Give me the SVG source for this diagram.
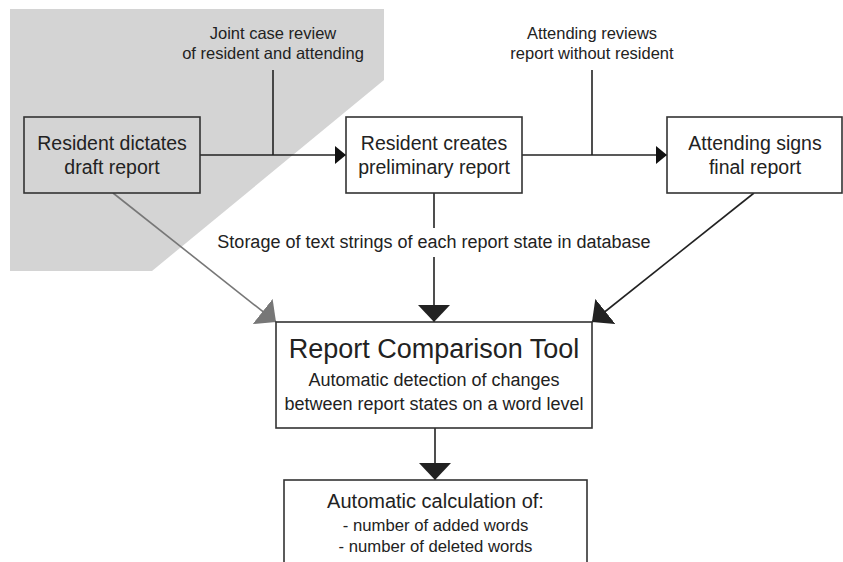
<svg xmlns="http://www.w3.org/2000/svg" width="843" height="562" viewBox="0 0 843 562">
<defs>
<style>
text{font-family:"Liberation Sans",Arial,sans-serif;fill:#222;text-anchor:middle}
.box{stroke:#333;stroke-width:1.6}
.ln{stroke:#222;stroke-width:1.6;fill:none}
.gl{stroke:#777;stroke-width:1.6;fill:none}
.bt{font-size:19.5px}
.lb{font-size:16.5px}
</style>
<marker id="big" markerUnits="userSpaceOnUse" markerWidth="17" markerHeight="32" refX="17" refY="16" orient="auto"><path d="M0,0 L17,16 L0,32 z" fill="#222"/></marker>
<marker id="bigg" markerUnits="userSpaceOnUse" markerWidth="17" markerHeight="32" refX="17" refY="16" orient="auto"><path d="M0,0 L17,16 L0,32 z" fill="#777"/></marker>
<marker id="sm" markerUnits="userSpaceOnUse" markerWidth="11" markerHeight="18" refX="11" refY="9" orient="auto"><path d="M0,0 L11,9 L0,18 z" fill="#111"/></marker>
</defs>
<polygon id="shade" points="10,9 384,9 384,80 152,271 10,271" fill="#d4d4d4"/>
<g id="connectors">
<line class="ln" x1="200" y1="155" x2="346" y2="155" marker-end="url(#sm)"/>
<line class="ln" x1="273" y1="70" x2="273" y2="155"/>
<line class="ln" x1="522" y1="155" x2="667" y2="155" marker-end="url(#sm)"/>
<line class="ln" x1="592" y1="70" x2="592" y2="155"/>
<line class="ln" x1="434" y1="193" x2="434" y2="228"/>
<line class="ln" x1="434" y1="257" x2="434" y2="322" marker-end="url(#big)"/>
<line class="gl" x1="113" y1="193" x2="276" y2="322" marker-end="url(#bigg)"/>
<line class="ln" x1="754" y1="193" x2="592" y2="322" marker-end="url(#big)"/>
<line class="ln" x1="435" y1="428" x2="435" y2="480" marker-end="url(#big)"/>
</g>
<g id="label-joint">
<text class="lb" x="273" y="39">Joint case review</text>
<text class="lb" x="273" y="59">of resident and attending</text>
</g>
<g id="label-attending">
<text class="lb" x="592" y="39">Attending reviews</text>
<text class="lb" x="592" y="59">report without resident</text>
</g>
<g id="label-storage">
<text x="434" y="248" style="font-size:18px">Storage of text strings of each report state in database</text>
</g>
<g id="draft">
<rect class="box" x="24" y="117" width="176" height="76" fill="#d4d4d4"/>
<text class="bt" x="112" y="150">Resident dictates</text>
<text class="bt" x="112" y="174">draft report</text>
</g>
<g id="preliminary">
<rect class="box" x="346" y="117" width="176" height="76" fill="#fff"/>
<text class="bt" x="434" y="150">Resident creates</text>
<text class="bt" x="434" y="174">preliminary report</text>
</g>
<g id="final">
<rect class="box" x="667" y="117" width="175" height="76" fill="#fff"/>
<text class="bt" x="755" y="150">Attending signs</text>
<text class="bt" x="755" y="174">final report</text>
</g>
<g id="tool">
<rect class="box" x="276" y="322" width="316" height="106" fill="#fff"/>
<text x="434" y="358" style="font-size:27px">Report Comparison Tool</text>
<text x="434" y="386" style="font-size:18px">Automatic detection of changes</text>
<text x="434" y="410" style="font-size:18px">between report states on a word level</text>
</g>
<g id="calc">
<rect class="box" x="284" y="480" width="303" height="100" fill="#fff"/>
<text x="435.5" y="508" style="font-size:20px">Automatic calculation of:</text>
<text x="435.5" y="531" style="font-size:16.7px">- number of added words</text>
<text x="435.5" y="552" style="font-size:16.7px">- number of deleted words</text>
</g>
</svg>
